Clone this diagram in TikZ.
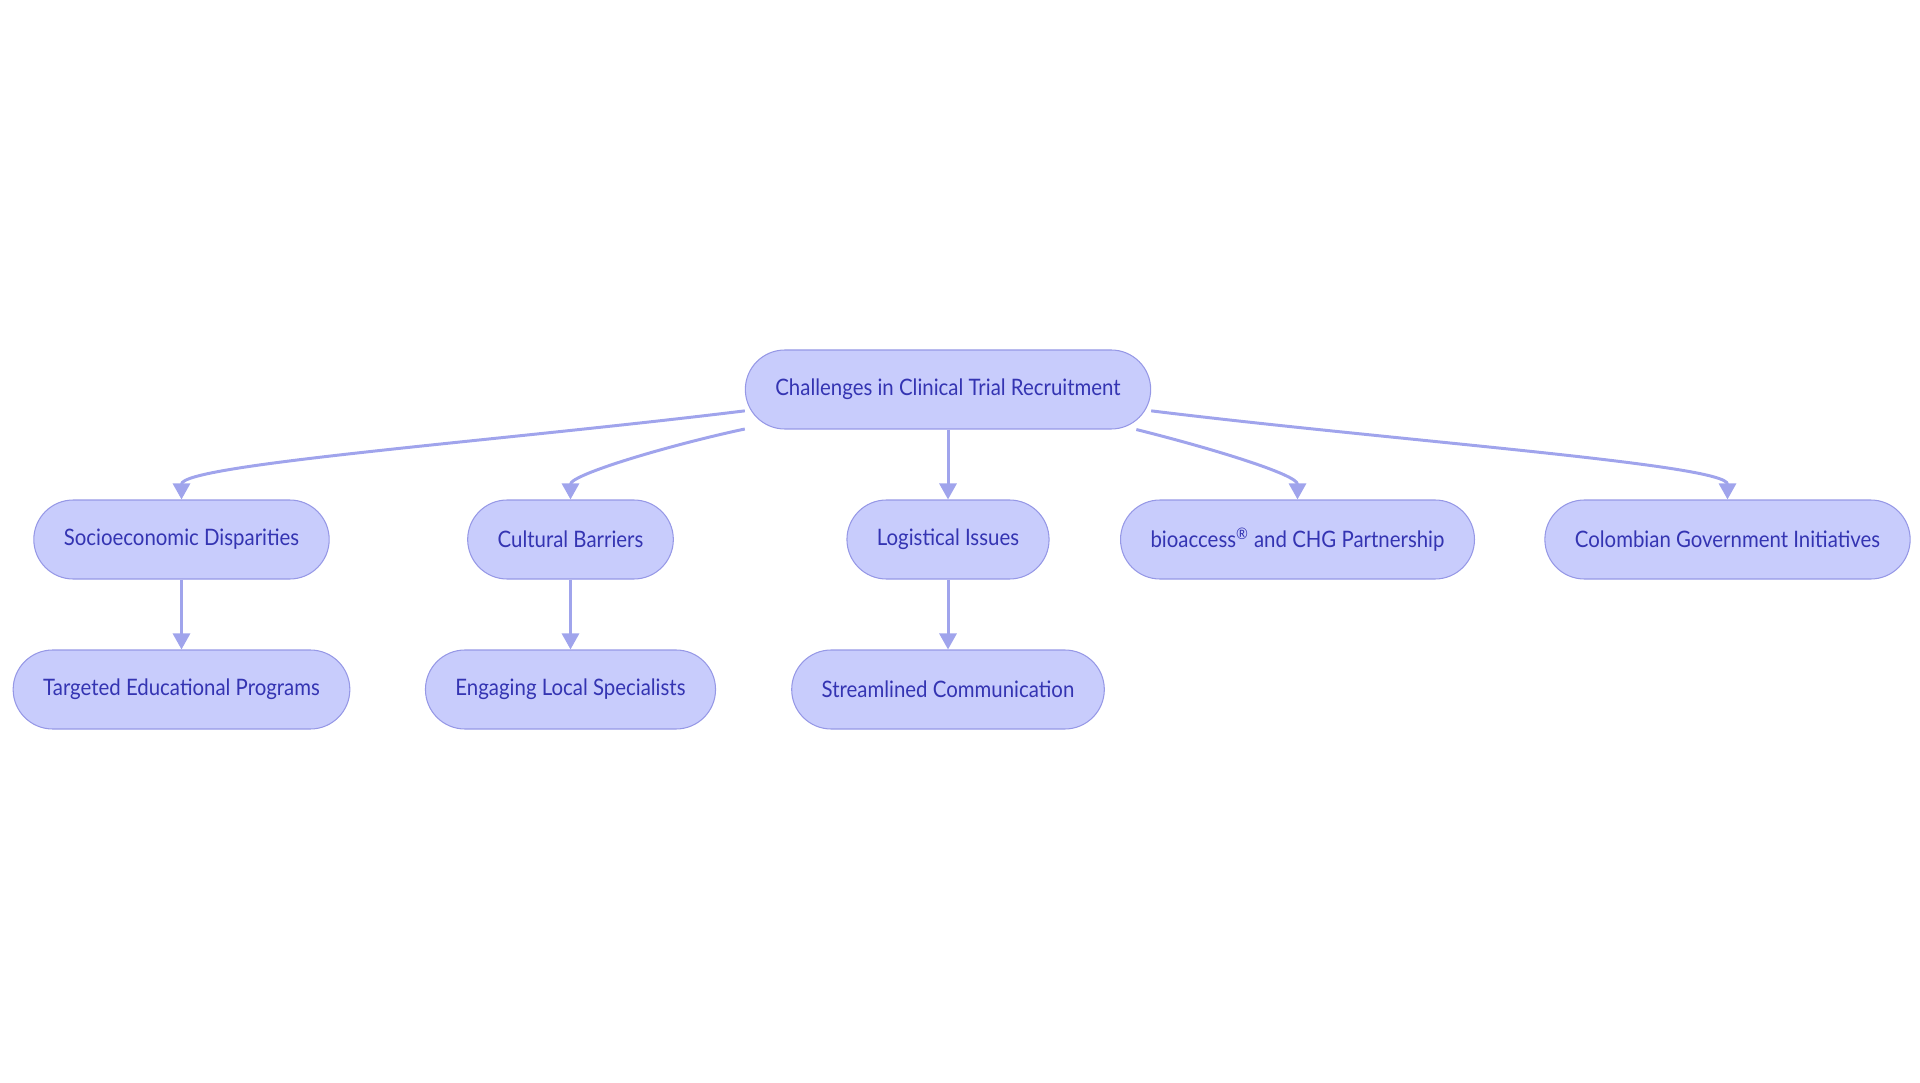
\documentclass[tikz,border=0pt]{standalone}
\usepackage{fontspec}
\setmainfont[FakeStretch=0.9]{Lato}
\usepackage{xcolor, tikz}
\usetikzlibrary{arrows.meta}
\definecolor{boxfill}{RGB}{200,204,252}
\definecolor{boxdraw}{RGB}{150,152,230}
\definecolor{boxtext}{RGB}{52,52,178}
\definecolor{linkcol}{RGB}{160,164,236}
\tikzstyle{challenge} = [rectangle, rounded corners=0.79cm, minimum height=1.58cm, inner xsep=0.6cm, text centered, draw=boxdraw, line width=0.6pt, fill=boxfill, text=boxtext, font=\fontsize{12.9}{15}\selectfont]
\tikzstyle{arrow} = [line width=1.7pt, draw=linkcol, -{Triangle[length=0.32cm, width=0.34cm]}, rounded corners=0pt]

\begin{document}
\begin{tikzpicture}[node distance=3cm]
\useasboundingbox (0,0) rectangle (38.4,-21.66);
\node (main) [challenge] at (18.96,-7.79) {Challenges in Clinical Trial Recruitment};
\node (soc) [challenge, below of=main, xshift=-15.33cm] {Socioeconomic Disparities};
\node (cul) [challenge, below of=main, xshift=-7.55cm] {Cultural Barriers};
\node (log) [challenge, below of=main] {Logistical Issues};
\node (bio) [challenge, below of=main, xshift=6.99cm] {bioaccess\textsuperscript{®} and CHG Partnership};
\node (col) [challenge, below of=main, xshift=15.59cm] {Colombian Government Initiatives};
\node (edu) [challenge, below of=soc] {Targeted Educational Programs};
\node (spec) [challenge, below of=cul] {Engaging Local Specialists};
\node (comm) [challenge, below of=log] {Streamlined Communication};
\draw [arrow] (main.186) to[out=187, in=90, out distance=5cm, in distance=0.7cm] (soc.north);
\draw [arrow] (main.191) to[out=192, in=90, out distance=1.5cm, in distance=0.5cm] (cul.north);
\draw [arrow] (main) -- (log);
\draw [arrow] (main.348) to[out=346, in=90, out distance=1.5cm, in distance=0.5cm] (bio.north);
\draw [arrow] (main.354) to[out=353, in=90, out distance=5cm, in distance=0.7cm] (col.north);
\draw [arrow] (soc) -- (edu);
\draw [arrow] (cul) -- (spec);
\draw [arrow] (log) -- (comm);

\end{tikzpicture}
\end{document}
